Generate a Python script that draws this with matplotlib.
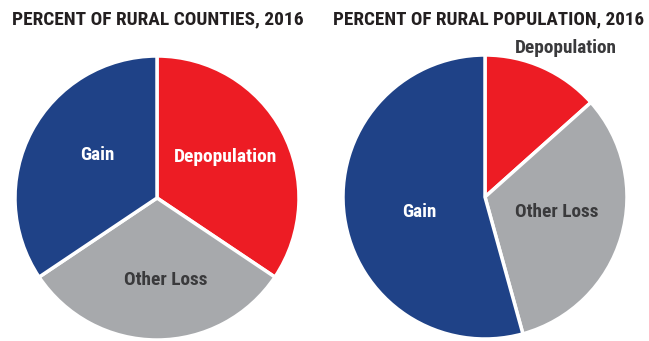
import matplotlib.pyplot as plt

categories = ["Depopulation", "Other Loss", "Gain"]
counties_pct = [34.4, 31.2, 34.4]
population_pct = [13.4, 32.3, 54.3]
colors = ["#ED1C24", "#A7A9AC", "#1F4287"]

fonts = ["Liberation Sans Narrow", "Roboto Condensed", "DejaVu Sans"]

W, H = 649, 341
fig = plt.figure(figsize=(W / 100, H / 100), dpi=100)
ax = fig.add_axes([0, 0, 1, 1])

wp = dict(edgecolor="white", linewidth=2.5)
ax.pie(counties_pct, colors=colors, startangle=90, counterclock=False,
       center=(157, H - 198), radius=142, wedgeprops=wp)
ax.pie(population_pct, colors=colors, startangle=90, counterclock=False,
       center=(485, H - 197), radius=142, wedgeprops=wp)

ax.set_xlim(0, W)
ax.set_ylim(0, H)
ax.set_aspect("auto")
ax.axis("off")

renderer = fig.canvas.get_renderer()


def fit(t, width):
    # shrink/grow the font so the text spans the same width as in the reference
    w = t.get_window_extent(renderer).width
    t.set_fontsize(t.get_fontsize() * width / w)


title_kw = dict(fontsize=14, fontweight="bold", color="#231F20", family=fonts,
                stretch="condensed", va="center", ha="left")
t1 = ax.text(12, H - 19, "PERCENT OF RURAL COUNTIES, 2016", **title_kw)
t2 = ax.text(333, H - 19, "PERCENT OF RURAL POPULATION, 2016", **title_kw)
fit(t1, 293)
fit(t2, 312)

lab_kw = dict(fontsize=13, fontweight="bold", family=fonts, stretch="condensed",
              va="center", ha="center")
dark = "#3A3A3C"
# left pie
fit(ax.text(97, H - 155, "Gain", color="white", **lab_kw), 34)
fit(ax.text(226, H - 157, "Depopulation", color="white", **lab_kw), 103)
fit(ax.text(166, H - 280, "Other Loss", color=dark, **lab_kw), 83)
# right pie
fit(ax.text(566, H - 48, "Depopulation", color=dark, **lab_kw), 102)
fit(ax.text(419, H - 212, "Gain", color="white", **lab_kw), 34)
fit(ax.text(557, H - 212, "Other Loss", color=dark, **lab_kw), 83)

fig.savefig("out.png", dpi=100)
